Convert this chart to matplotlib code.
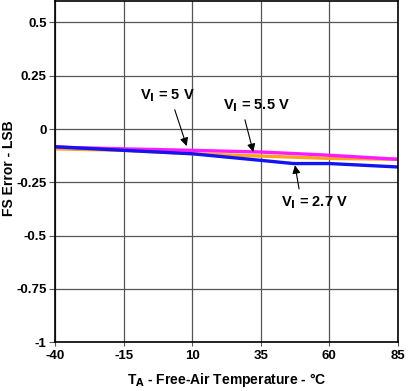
import numpy as np
import matplotlib
matplotlib.use("Agg")
import matplotlib.pyplot as plt

plt.rcParams['font.family'] = ['Liberation Sans', 'DejaVu Sans']
plt.rcParams['font.weight'] = 'bold'
plt.rcParams['axes.unicode_minus'] = False
plt.rcParams['mathtext.default'] = 'bf'

# temperature points (deg C)
temp = [-40, -15, 10, 35, 47, 60, 85]
# FS error (LSB) per supply voltage
err_5v = [-0.093, -0.100, -0.116, -0.127, -0.132, -0.138, -0.142]
err_55v = [-0.085, -0.093, -0.100, -0.108, -0.115, -0.123, -0.142]
err_27v = [-0.083, -0.100, -0.116, -0.147, -0.162, -0.162, -0.178]

xticks = [-40, -15, 10, 35, 60, 85]
yticks = [-1, -0.75, -0.5, -0.25, 0, 0.25, 0.5]
ytick_labels = ['-1', '-0.75', '-0.5', '-0.25', '0', '0.25', '0.5']

fig = plt.figure(figsize=(4.08, 3.91), dpi=100)
ax = fig.add_axes([0.135, 0.125, 0.84, 0.872])

ax.plot(temp, err_5v, color='#ffa31a', linewidth=2.4)
ax.plot(temp, err_55v, color='#ff1aff', linewidth=2.4)
ax.plot(temp, err_27v, color='#1414f0', linewidth=2.4)

ax.set_xlim(-40, 85)
ax.set_ylim(-1, 0.6)
ax.set_xticks(xticks)
ax.set_yticks(yticks)
ax.set_yticklabels(ytick_labels)
ax.tick_params(axis='y', length=4, color='#555555', labelsize=9.5, pad=2)
ax.tick_params(axis='x', length=3, color='#555555', labelsize=9.5, pad=3)
ax.grid(True, color='#555555', linewidth=0.9)
for s in ax.spines.values():
    s.set_linewidth(1.2)

ax.set_xlabel('T$_A$ - Free-Air Temperature - °C', fontsize=10, fontweight='bold', labelpad=6)
ax.set_ylabel('FS Error - LSB', fontsize=10, fontweight='bold')
ax.yaxis.set_label_coords(-0.115, 0.51)

def arrow(rx, ry):
    return dict(arrowstyle='-|>', color='black', linewidth=0.8, mutation_scale=12,
                relpos=(rx, ry), shrinkA=2, shrinkB=0)

ax.annotate('V$_I$ = 5 V', xy=(8, -0.08), xytext=(1, 0.155),
            fontsize=10.5, fontweight='bold', ha='center', va='center', arrowprops=arrow(0.6, 0))
ax.annotate('V$_I$ = 5.5 V', xy=(32.3, -0.108), xytext=(33.6, 0.108),
            fontsize=10.5, fontweight='bold', ha='center', va='center', arrowprops=arrow(0.3, 0))
ax.annotate('V$_I$ = 2.7 V', xy=(47.5, -0.17), xytext=(54.7, -0.346),
            fontsize=10.5, fontweight='bold', ha='center', va='center', arrowprops=arrow(0.28, 1))

plt.savefig('out.png', dpi=100)
